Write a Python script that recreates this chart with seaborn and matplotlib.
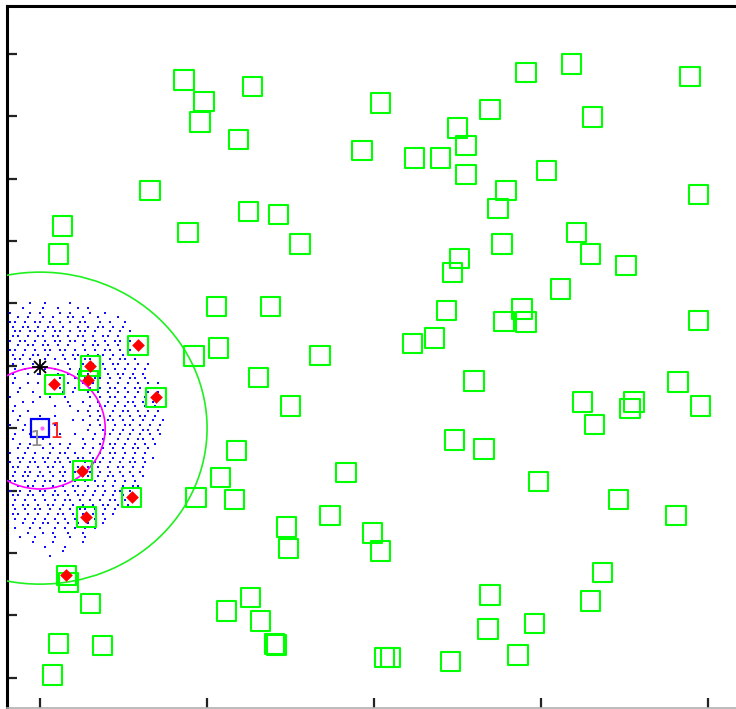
import numpy as np
import pandas as pd
import matplotlib
matplotlib.use("Agg")
import matplotlib.pyplot as plt
from matplotlib.patches import Circle
import seaborn as sns

# Sensor node positions (open green squares)
node_x = [43.1, 49.1, 47.9, 63.5, 59.3, 145.5, 159.0, 194.6, 101.8, 134.7,
          165.3, 125.1, 127.5, 96.4, 112.0, 119.8, 127.5, 151.5, 32.9, 139.5,
          197.0, 137.1, 62.3, 71.3, 6.6, 44.3, 160.5, 5.4, 77.8, 138.3,
          164.7, 125.7, 123.4, 175.4, 155.7, 52.7, 68.9, 121.6, 144.3, 138.9,
          145.5, 197.0, 118.0, 111.4, 53.3, 46.1, 83.8, 29.3, 15.0, 14.4,
          4.2, 34.7, 65.3, 129.9, 191.0, 162.3, 177.8, 176.6, 197.6, 74.9,
          165.9, 124.0, 58.7, 132.9, 12.6, 91.6, 53.9, 149.1, 27.5, 46.7,
          58.1, 173.1, 13.8, 86.8, 190.4, 73.7, 99.4, 74.3, 101.8, 7.8,
          8.4, 168.3, 15.0, 62.9, 55.7, 134.7, 164.7, 65.9, 147.9, 134.1,
          70.1, 70.7, 5.4, 18.6, 103.0, 104.8, 122.8, 143.1, 3.6]
node_y = [191.6, 184.8, 178.1, 189.6, 172.4, 194.1, 196.7, 192.8, 184.2, 182.0,
          179.7, 176.2, 170.7, 169.1, 166.6, 166.6, 161.4, 162.7, 156.3, 156.3,
          155.0, 150.5, 149.3, 148.6, 144.8, 142.8, 142.8, 135.8, 139.0, 139.0,
          135.8, 134.5, 130.0, 132.0, 124.6, 119.1, 119.1, 117.8, 118.2, 114.3,
          114.0, 114.6, 108.9, 107.0, 105.7, 103.1, 103.4, 106.6, 99.9, 95.4,
          94.1, 89.9, 96.1, 95.1, 94.8, 88.4, 88.4, 86.4, 87.1, 87.1,
          81.3, 76.2, 72.7, 73.3, 66.3, 65.9, 64.3, 63.0, 57.9, 57.9,
          57.0, 57.0, 51.5, 52.1, 52.1, 48.3, 46.4, 41.3, 40.6, 32.9,
          30.4, 33.6, 23.9, 25.8, 21.4, 26.5, 24.6, 18.2, 17.5, 15.6,
          10.8, 10.5, 11.1, 10.2, 6.6, 6.6, 5.3, 7.3, 0.9]

# Nodes picked up by the sink (red diamonds)
sel_x = [29.3, 15.0, 14.4, 4.2, 34.7, 12.6, 27.5, 13.8, 7.8]
sel_y = [106.6, 99.9, 95.4, 94.1, 89.9, 66.3, 57.9, 51.5, 32.9]

sink_x, sink_y = 0.0, 80.0
head_x, head_y = 0.0, 99.5
outer_radius = 50.0
inner_radius = 19.5

# Sample cloud around the sink, as an occupancy map (o = sample);
# odd rows sit half a step to the right
cloud_x0, cloud_y0, cloud_step = -9.0, 120.0, 1.5
cloud_rows = [
    "....o..o....o",
    "..o...o..o...o.o",
    "o...o.o...o.o...o..o",
    ".o.o..o.o..oo.o..o...o",
    "oo.o.oo.o.o.o.oo..o.o..o",
    "o.oo.o.oo.o..o.o.oo.o.o",
    ".oo.oo.o.oo.o.oo.o..o.o.o",
    "oo.o.oo.oo.o.oo.o.oo.o..o",
    "o.oo.o.o.oo.oo.o.o.o.oo.o",
    ".o.oo.oo.o.o..o.oo.o.o...o",
    "oo.o.o.oo.oo.o.o.o.oo.o.o",
    "o.o.oo.o..o.oo.o.oo.o.o.o.o",
    ".oo.o..o.o.o.o.oo.o.o.oo.o",
    "o.o.o.o..o.o..o.o.o.oo.o.o.o",
    ".o.o...o.o..o.o.o.oo.o.o.o.o",
    "o..o.o...o.o.o.o.o.o.oo.o.o",
    ".o.....o..o..o.o.oo.o.o.oo.o",
    "o..o.o.....o..o.o..o.o.o.o.o.o",
    "..o....o..o..o..o.o.oo.o.oo.o",
    ".o..o.....o.o..o.o.o.o.o.o.o.o",
    "o.....o.o..o....o.o.oo.o.o.o",
    "..o.o......o..o..o.o.o.oo.o.o",
    ".o.......o..o...o.oo.o.o.o.o.o",
    "o..o.........o.o.o..o.oo.o.o.o",
    "..o...o..o......o.o.o.o.o.oo.o",
    ".o..........o.o..o.oo.o.o.o.o.o",
    "o..o.....o......o.o..o.oo.o.o.o",
    "..o............o..o.o.o.o.oo.o",
    ".o..o.....o..o...o.oo.o.o.o.o.o",
    "o.....o.......o.o.o..o.o.oo.o",
    "..o.o...o.o.o..o..o.oo.o.o.o.o",
    ".o.o..o.o..o..o.o.o.o.o.oo.o",
    "o..o.o..o.oo.o..o.o.oo.o.o.o",
    ".oo.o.oo.o.o.oo.o.o.o.o.o.o.o",
    "o.o.oo.o.oo.o..o.oo.o.o.oo.o",
    "oo.o.o.oo.o.oo.o.o.o.oo.o.o",
    ".o.oo.o.o.oo.o.oo.o.o.o.o.o",
    "o.oo.oo.o.o.o.oo.o.oo.o.o.o",
    "oo.o.o.oo.oo.o.o.o.o.o.o.o",
    ".o.oo.o.o.o.oo.o.oo.o.o.oo",
    "o.o.o.oo.o.o.o.o.o.o.oo.o",
    "oo.oo.o.oo.o.oo.o.o.o.o.o",
    ".o.o.o.o.o.oo.o.o.o.oo.o",
    "o.oo.o.oo.o.o.o.o.oo.o.o",
    ".o.o.oo.o.o.o.oo.o.o.o",
    "oo.o.o.o.oo.o.o.o.o.o",
    ".o.o.o.o.o.o.o.o.o.o",
    "..o.o.oo.o.o.o.o..o",
    ".o..o.o..o.o.o.o.o",
    "...o..o.o..o..o",
    "..o..o...o..o..o",
    "....o...o.....o",
    ".......o...o",
    "..........o",
    "........o",
]

cloud_x, cloud_y = [], []
for r, row in enumerate(cloud_rows):
    shift = 0.5 * cloud_step if r % 2 else 0.0
    for c, ch in enumerate(row):
        if ch == "o":
            cloud_x.append(cloud_x0 + c * cloud_step + shift)
            cloud_y.append(cloud_y0 - r * cloud_step)

cloud = pd.DataFrame({"x": cloud_x, "y": cloud_y})
nodes = pd.DataFrame({"x": node_x, "y": node_y})
picked = pd.DataFrame({"x": sel_x, "y": sel_y})

sns.set_style("white")
fig = plt.figure(figsize=(7.36, 7.09), dpi=100)
ax = fig.add_axes([7 / 736, 1 / 709, 734.5 / 736, 702 / 709])
ax.set_facecolor("white")

sns.scatterplot(data=cloud, x="x", y="y", ax=ax, marker="s", s=4.2,
                color="#1010ff", linewidth=0, zorder=2)

ax.add_patch(Circle((sink_x, sink_y), outer_radius, fill=False,
                    edgecolor="#1ff01f", linewidth=1.2, zorder=3))
ax.add_patch(Circle((sink_x, sink_y), inner_radius, fill=False,
                    edgecolor="#ff00ff", linewidth=1.2, zorder=3))

sns.scatterplot(data=nodes, x="x", y="y", ax=ax, marker="s", s=190,
                facecolors="none", edgecolor="#00ff00", linewidth=1.5, zorder=4)
sns.scatterplot(data=picked, x="x", y="y", ax=ax, marker="D", s=42,
                color="#ff0000", linewidth=0, zorder=5)

# sink and cluster head
ax.plot([sink_x], [sink_y], marker="s", ms=13, mfc="none", mec="#0000ff",
        mew=1.6, zorder=6)
ax.plot([sink_x + 0.5], [sink_y], marker="o", ms=2, color="#ff66ff", zorder=6)
ax.plot([head_x], [head_y], marker="+", ms=12, color="black", mew=1.3, zorder=7)
ax.plot([head_x], [head_y], marker="x", ms=8, color="black", mew=1.3, zorder=7)
ax.text(sink_x + 2.8, sink_y - 1.3, "1", color="#ff2020", fontsize=15,
        ha="left", va="center", zorder=8)
ax.text(sink_x - 1.2, sink_y - 3.8, "1", color="#909090", fontsize=15,
        ha="center", va="center", zorder=8)

ax.set_xlim(-9.9, 210)
ax.set_ylim(-9.7, 215.3)
ax.set_xticks([0, 50, 100, 150, 200])
ax.set_yticks(list(range(0, 201, 20)))
ax.set_xticklabels([])
ax.set_yticklabels([])
ax.set_xlabel("")
ax.set_ylabel("")
ax.tick_params(direction="in", length=7, width=1.6, colors="#222222",
               left=True, bottom=True)
for side in ("left", "top"):
    ax.spines[side].set_color("black")
    ax.spines[side].set_linewidth(2.2)
ax.spines["bottom"].set_color("#b0b0b0")
ax.spines["bottom"].set_linewidth(1.2)
ax.spines["right"].set_color("black")

fig.savefig("out.png", dpi=100)
